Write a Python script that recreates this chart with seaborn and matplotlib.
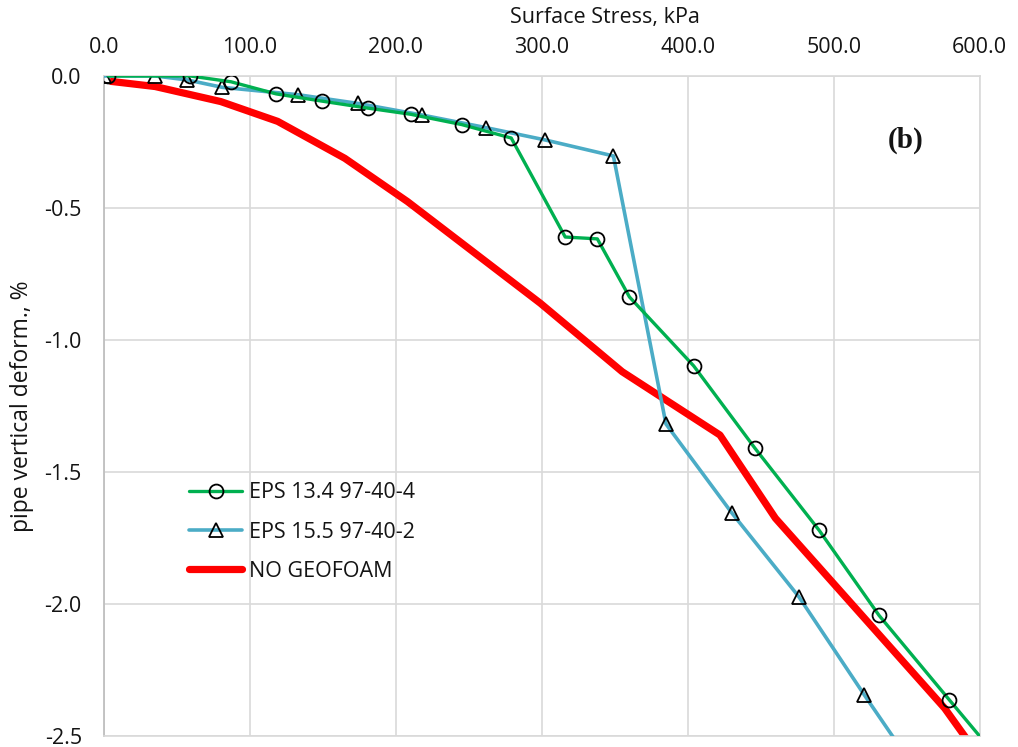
import matplotlib
matplotlib.use("Agg")
import matplotlib.pyplot as plt
import seaborn as sns
import pandas as pd

# Surface stress (kPa) vs pipe vertical deformation (%)
eps134_stress = [3, 59, 87, 118, 149, 181, 210, 245, 279, 316, 338, 360, 404, 446, 490, 531, 579, 615]
eps134_deform = [0.0, 0.0, -0.022, -0.068, -0.095, -0.122, -0.145, -0.184, -0.235, -0.610, -0.617,
                 -0.837, -1.098, -1.410, -1.721, -2.043, -2.362, -2.60]

eps155_stress = [0, 35, 57, 81, 133, 174, 218, 262, 302, 349, 385, 430, 476, 521, 560]
eps155_deform = [0.0, 0.0, -0.015, -0.043, -0.071, -0.104, -0.148, -0.196, -0.242, -0.303,
                 -1.318, -1.654, -1.972, -2.345, -2.66]

nogeo_stress = [4, 35, 80, 119, 165, 208, 299, 355, 422, 460, 576, 600]
nogeo_deform = [-0.02, -0.040, -0.097, -0.172, -0.312, -0.476, -0.861, -1.120, -1.360, -1.675,
                -2.395, -2.58]

labels = ["EPS 13.4 97-40-4", "EPS 15.5 97-40-2", "NO GEOFOAM"]
x_ticks = [0, 100, 200, 300, 400, 500, 600]
y_ticks = [0.0, -0.5, -1.0, -1.5, -2.0, -2.5]

sns.set_theme(style="white")
plt.rcParams["font.family"] = ["Open Sans", "DejaVu Sans"]

fig = plt.figure(figsize=(10.18, 7.47), dpi=100)
ax = fig.add_axes([0.1022, 0.0147, 0.8602, 0.8836])

grid_c = "#d9d9d9"
text_c = "#141414"
ax.set_xlim(0, 600)
ax.set_ylim(-2.5, 0)
ax.set_xticks(x_ticks)
ax.set_yticks(y_ticks)
ax.set_xticklabels([f"{v:.1f}" for v in x_ticks])
ax.set_yticklabels([f"{v:.1f}" for v in y_ticks])
ax.grid(True, color=grid_c, linewidth=1.2)
ax.set_axisbelow(True)
for side in ["top", "right", "bottom"]:
    ax.spines[side].set_color(grid_c)
    ax.spines[side].set_linewidth(1.2)
ax.spines["left"].set_color("#bfbfbf")
ax.spines["left"].set_linewidth(1.3)

df1 = pd.DataFrame({"stress": eps134_stress, "deform": eps134_deform})
df2 = pd.DataFrame({"stress": eps155_stress, "deform": eps155_deform})
df3 = pd.DataFrame({"stress": nogeo_stress, "deform": nogeo_deform})

sns.lineplot(data=df3, x="stress", y="deform", ax=ax, color="#ff0000", linewidth=5.2,
             sort=False, estimator=None, label=labels[2], solid_capstyle="butt", zorder=2)
sns.lineplot(data=df2, x="stress", y="deform", ax=ax, color="#4bacc6", linewidth=2.6,
             marker="^", markersize=10, markerfacecolor="none", markeredgecolor="black",
             markeredgewidth=1.3, sort=False, estimator=None, label=labels[1], zorder=3)
sns.lineplot(data=df1, x="stress", y="deform", ax=ax, color="#00b050", linewidth=2.4,
             marker="o", markersize=10, markerfacecolor="none", markeredgecolor="black",
             markeredgewidth=1.3, sort=False, estimator=None, label=labels[0], zorder=4)

ax.xaxis.tick_top()
ax.xaxis.set_label_position("top")
ax.tick_params(axis="both", length=0, labelsize=15.5, colors=text_c)
ax.tick_params(axis="x", pad=13)
ax.tick_params(axis="y", pad=16)

ax.set_xlabel("Surface Stress, kPa", fontsize=15.5, color=text_c)
ax.xaxis.set_label_coords(0.572, 1.088)
ax.xaxis.label.set_va("center")
ax.set_ylabel("pipe vertical deform., %", fontsize=16.5, color=text_c)
ax.yaxis.set_label_coords(-0.0936, 0.5)
ax.yaxis.label.set_va("center")

ax.text(549, -0.242, "(b)", fontsize=21, fontweight="bold", family="Liberation Serif",
        ha="center", va="center", color=text_c)

handles, lbls = ax.get_legend_handles_labels()
order = [lbls.index(l) for l in labels]
leg = ax.legend([handles[i] for i in order], [lbls[i] for i in order],
                loc="upper left", bbox_to_anchor=(0.075, 0.4136), frameon=False,
                fontsize=15.5, handlelength=2.47, handletextpad=0.33, labelspacing=0.85)
for txt in leg.get_texts():
    txt.set_color(text_c)
for line in leg.get_lines():
    line.set_solid_capstyle("round")

fig.savefig("out.png", dpi=100)
